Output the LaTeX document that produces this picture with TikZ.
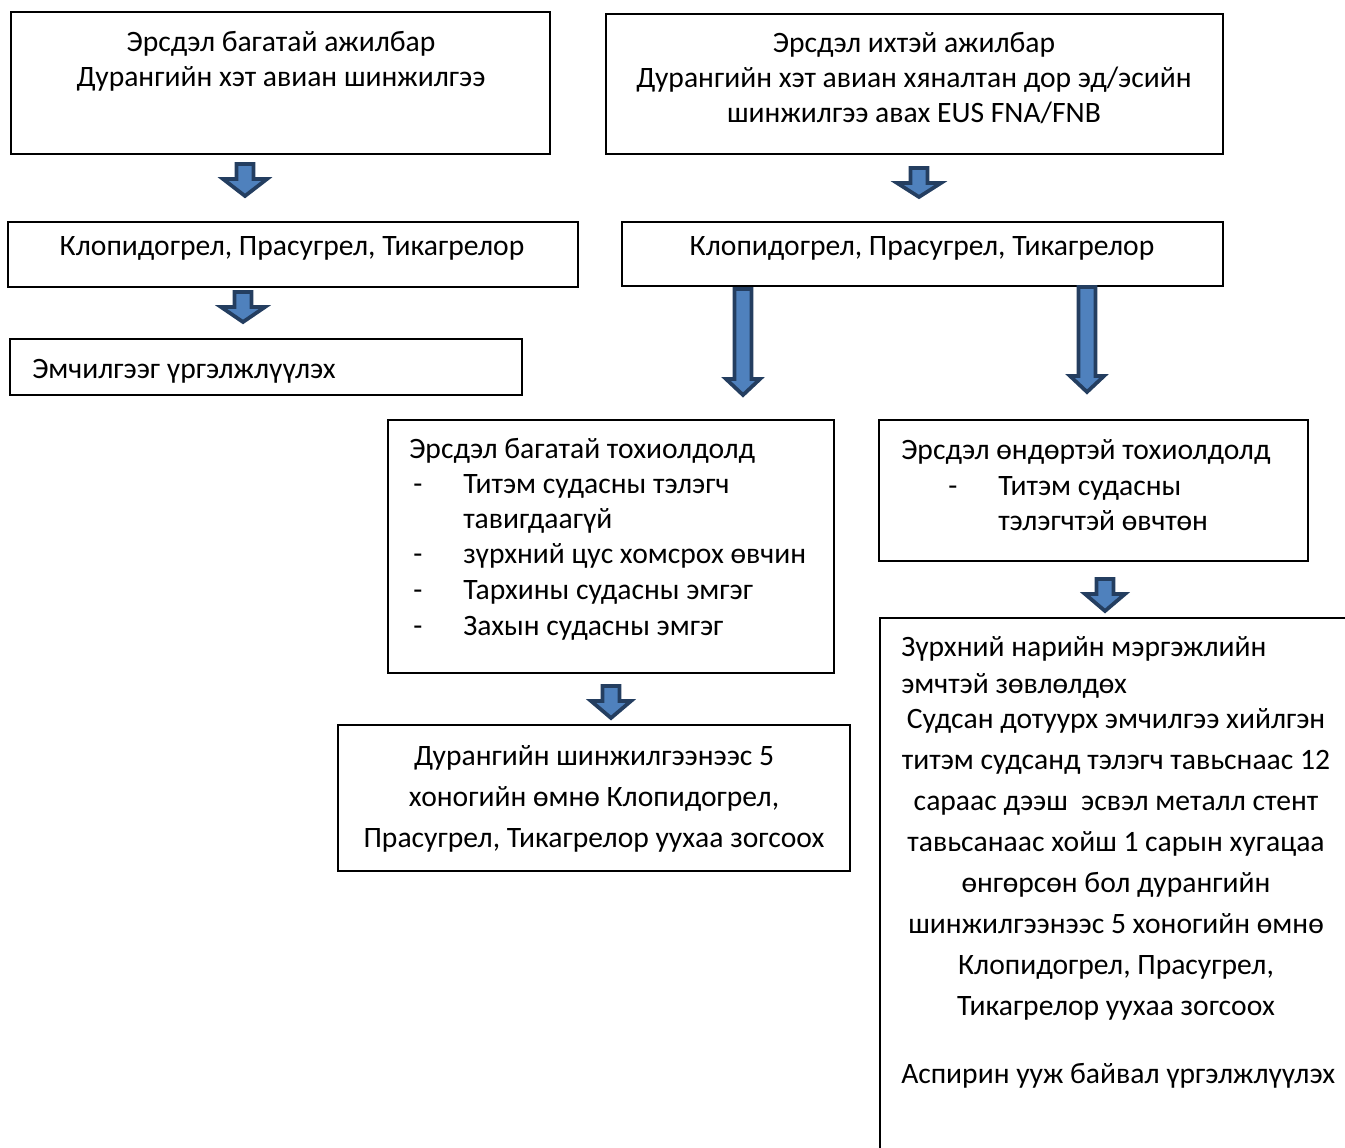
\documentclass[tikz,border=0pt]{standalone}
\usepackage{fontspec}
\setmainfont{Carlito}
\usetikzlibrary{fit}
\definecolor{arrowfill}{RGB}{79,129,189}
\definecolor{arrowline}{RGB}{36,62,96}
\begin{document}
\begin{tikzpicture}[x=0.75pt,y=-0.75pt,
  box/.style={draw=black, line width=1.1pt, inner sep=0pt},
  txt/.style={inner sep=0pt, anchor=base, font=\fontsize{22.2}{26}\selectfont},
  ltxt/.style={txt, anchor=base west},
  barrow/.style={draw=arrowline, fill=arrowfill, line width=2.8pt, line join=miter},
  pics/blockdown/.style n args={4}{code={
    \draw[barrow] (-#1,0) -- (#1,0) -- (#1,#3) -- (#2,#3) -- (0,#4)
      -- (-#2,#3) -- (-#1,#3) -- cycle;}}]
\useasboundingbox (0,0) rectangle (1345,1148);
\clip (0,0) rectangle (1345,1148);

% boxes
\node[box, fit={(11,12) (550,154)}] (b1) {};
\node[box, fit={(606,14) (1223,154)}] (b2) {};
\node[box, fit={(8,222) (578,287)}] (b3) {};
\node[box, fit={(622,222) (1223,286)}] (b4) {};
\node[box, fit={(10,339) (522,395)}] (b5) {};
\node[box, fit={(388,420) (834,673)}] (b6) {};
\node[box, fit={(879,420) (1308,561)}] (b7) {};
\node[box, fit={(338,725) (850,871)}] (b8) {};
\node[box, fit={(880,618) (1380,1190)}] (b9) {};

% block arrows
\pic at (245,164) {blockdown={8.5}{22}{15}{32}};
\pic at (919,168) {blockdown={8.5}{22}{15}{29}};
\pic at (243,292) {blockdown={8.5}{22}{15}{30}};
\pic at (743,289) {blockdown={8.5}{17}{90}{106}};
\pic at (1087,287) {blockdown={8.5}{17}{89}{105}};
\pic at (611,686) {blockdown={8.5}{20}{15}{32}};
\pic at (1105,579) {blockdown={8.5}{20}{15}{32}};

% texts
\node[txt] (t1a) at (281,52) {Эрсдэл багатай ажилбар};
\node[txt] (t1b) at (281,87) {Дурангийн хэт авиан шинжилгээ};

\node[txt] (t2a) at (914,53) {Эрсдэл ихтэй ажилбар};
\node[txt] (t2b) at (914,88) {Дурангийн хэт авиан хяналтан дор эд/эсийн};
\node[txt] (t2c) at (914,123) {шинжилгээ авах EUS FNA/FNB};

\node[txt] (t3) at (292,256) {Клопидогрел, Прасугрел, Тикагрелор};
\node[txt] (t4) at (922,256) {Клопидогрел, Прасугрел, Тикагрелор};
\node[ltxt] (t5) at (32,378) {Эмчилгээг үргэлжлүүлэх};

\node[ltxt] (t6h) at (409,458) {Эрсдэл багатай тохиолдолд};
\node[txt] (d6a) at (418,493) {-};
\node[ltxt] (t6a) at (463,493) {Титэм судасны тэлэгч};
\node[ltxt] (t6b) at (463,528) {тавигдаагүй};
\node[txt] (d6c) at (418,563) {-};
\node[ltxt] (t6c) at (463,563) {зүрхний цус хомсрох өвчин};
\node[txt] (d6d) at (418,599) {-};
\node[ltxt] (t6d) at (463,599) {Тархины судасны эмгэг};
\node[txt] (d6e) at (418,635) {-};
\node[ltxt] (t6e) at (463,635) {Захын судасны эмгэг};

\node[ltxt] (t7h) at (901,459) {Эрсдэл өндөртэй тохиолдолд};
\node[txt] (d7a) at (953,495) {-};
\node[ltxt] (t7a) at (998,495) {Титэм судасны};
\node[ltxt] (t7b) at (998,530) {тэлэгчтэй өвчтөн};

\node[txt] (t8a) at (594,765) {Дурангийн шинжилгээнээс 5};
\node[txt] (t8b) at (594,806) {хоногийн өмнө Клопидогрел,};
\node[txt] (t8c) at (594,847) {Прасугрел, Тикагрелор уухаа зогсоох};

\node[ltxt] (t9a) at (901,656) {Зүрхний нарийн мэргэжлийн};
\node[ltxt] (t9b) at (901,693) {эмчтэй зөвлөлдөх};
\node[txt] (t9c) at (1116,728) {Судсан дотуурх эмчилгээ хийлгэн};
\node[txt] (t9d) at (1116,769) {титэм судсанд тэлэгч тавьснаас 12};
\node[txt] (t9e) at (1116,810) {сараас дээш\ \ эсвэл металл стент};
\node[txt] (t9f) at (1116,851) {тавьсанаас хойш 1 сарын хугацаа};
\node[txt] (t9g) at (1116,892) {өнгөрсөн бол дурангийн};
\node[txt] (t9h) at (1116,933) {шинжилгээнээс 5 хоногийн өмнө};
\node[txt] (t9i) at (1116,974) {Клопидогрел, Прасугрел,};
\node[txt] (t9j) at (1116,1015) {Тикагрелор уухаа зогсоох};
\node[ltxt] (t9k) at (901,1083) {Аспирин ууж байвал үргэлжлүүлэх};
\end{tikzpicture}
\end{document}
